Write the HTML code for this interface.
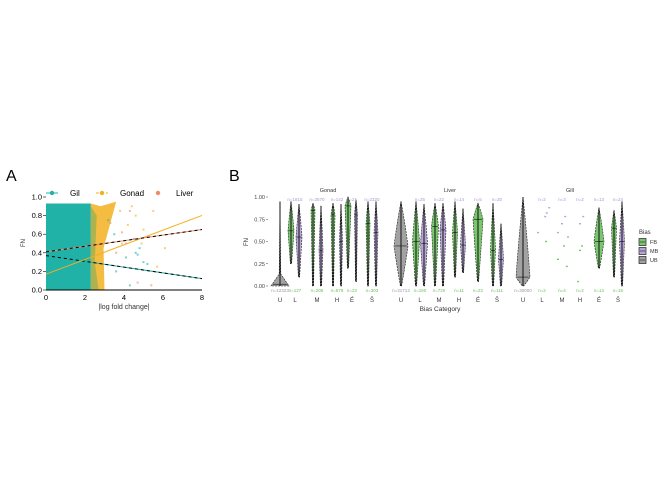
<!DOCTYPE html>
<html><head><meta charset="utf-8"><style>
body{margin:0;background:#fff;}
svg{display:block;font-family:"Liberation Sans",sans-serif;}
</style></head><body>
<svg id="fig" width="672" height="480" viewBox="0 0 672 480">
<g id="pa"></g>
<g id="pb"></g>
</svg>
<script>
// ---------- Panel A data ----------
const aTicksX = [0, 2, 4, 6, 8];
const aTicksY = [0.0, 0.2, 0.4, 0.6, 0.8, 1.0];
const aSeries = ["Gil", "Gonad", "Liver"];
const aIntercepts = [0.37, 0.17, 0.41];
const aSlopes = [-0.031, 0.079, 0.030];
const aScatterGil = [[3.2,0.75],[3.5,0.6],[4.1,0.35],[4.5,0.55],[4.6,0.4],[4.7,0.38],[5.0,0.3],[4.3,0.05],[3.6,0.2],[4.8,0.45],[5.2,0.28]];
const aScatterGonad = [[3.4,0.9],[3.8,0.85],[4.2,0.7],[4.6,0.8],[5.0,0.65],[5.5,0.85],[4.9,0.5],[5.7,0.25],[6.1,0.45],[3.9,0.5],[4.4,0.9]];
const aScatterLiver = [[3.3,0.72],[3.9,0.62],[4.3,0.85],[4.7,0.08],[5.4,0.05],[4.1,0.5],[3.6,0.4]];
// ---------- Panel B data ----------
const bTicksY = [0.00, 0.25, 0.50, 0.75, 1.00];
const bTickLabels = ["0.00","0.25","0.50","0.75","1.00"];
const bTissues = ["Gonad", "Liver", "Gill"];
const bCategories = ["U","L","M","H","E","S"];
const bCatLabels = ["U","L","M","H","É","Š"];
const vTissue = [0,0,0,0,0,0,0,0,0,0,0, 1,1,1,1,1,1,1,1,1,1, 2,2,2,2];
const vCat    = [0,1,1,2,2,3,3,4,4,5,5, 0,1,1,2,2,3,3,4,5,5, 0,4,5,5];
const vBias   = ["UB","FB","MB","FB","MB","FB","MB","FB","MB","FB","MB","UB","FB","MB","FB","MB","FB","MB","FB","FB","MB","UB","FB","FB","MB"];
const vMin    = [0,0.25,0.1,0,0,0,0,0.2,0.05,0,0, 0,0,0,0,0,0.1,0.15,0.05,0,0, 0,0.2,0.1,0];
const vMax    = [0.95,0.95,0.92,0.93,0.9,0.93,0.92,1.0,0.97,0.95,0.95, 0.95,0.95,0.92,0.93,0.93,0.95,0.87,0.93,0.93,0.7, 1.0,0.88,0.85,0.95];
const vMed    = [0.02,0.62,0.55,0.85,0.4,0.8,0.5,0.9,0.8,0.7,0.6, 0.45,0.5,0.48,0.67,0.63,0.6,0.46,0.75,0.4,0.3, 0.1,0.5,0.65,0.5];
const vWidth  = [9,3,3,2,2,2,1.5,3,1.5,2,2, 7,3.5,3.5,3.5,3,2.5,2.5,5,2.5,2.5, 7,5,2.5,2.5];
const nTop = ["n=1815","n=2570","n=142","n=21","n=2320","n=25","n=22","n=14","n=5","n=30","n=2","n=3","n=2","n=13","n=24"];
const nBot = ["n=12323","n=127","n=208","n=579","n=22","n=303","n=31712","n=160","n=720","n=11","n=22","n=111","n=30000","n=2","n=4","n=2","n=13","n=16"];
const gillDots = [[1,0.88],[1,0.82],[1,0.78],[1,0.6],[2,0.78],[2,0.7],[2,0.6],[2,0.55],[2,0.3],[2,0.22],[3,0.78],[3,0.7],[3,0.4],[3,0.45],[2,0.45],[1,0.5],[3,0.05]];

const NS="http://www.w3.org/2000/svg";
function el(parent, tag, attrs, text){
  const e=document.createElementNS(NS,tag);
  for(const k in attrs) e.setAttribute(k,attrs[k]);
  if(text!==undefined) e.textContent=text;
  parent.appendChild(e); return e;
}
const colA={Gil:"#20b2a6",Gonad:"#f2b01e",Liver:"#f0896e"};
const colB={FB:"#79c66f",MB:"#b6a5d6",UB:"#a2a2a2"};

// ---------- Panel A ----------
const pa=document.getElementById('pa');
const ax=v=>46+19.5*v, ay=v=>290-93*v;
let t=el(pa,'text',{x:6,y:181,'font-size':16,fill:'#000'},'A');


let r=el(pa,'rect',{x:ax(0),y:ay(0.93),width:ax(2.3)-ax(0),height:ay(0)-ay(0.93),fill:colA.Gil});


let p=el(pa,'path',{d:`M${ax(2.3)} ${ay(0.93)} L${ax(2.8)} ${ay(0.9)} L${ax(3.6)} ${ay(0.95)} L${ax(3.3)} ${ay(0.72)} L${ax(2.95)} ${ay(0.45)} L${ax(3.0)} ${ay(0.0)} L${ax(2.3)} ${ay(0)} Z`,fill:colA.Gonad,opacity:0.85});


p=el(pa,'path',{d:`M${ax(2.3)} ${ay(0.9)} L${ax(2.6)} ${ay(0.8)} L${ax(2.5)} ${ay(0.3)} L${ax(2.7)} ${ay(0.0)} L${ax(2.3)} ${ay(0)} Z`,fill:"#7fae5a",opacity:0.6});


[[aScatterGil,colA.Gil,'gil'],[aScatterGonad,colA.Gonad,'gonad'],[aScatterLiver,colA.Liver,'liver']].forEach(([pts,c,n])=>{
  pts.forEach(d=>{
    const q=el(pa,'rect',{x:ax(d[0])-1,y:ay(d[1])-1,width:2,height:2,fill:c,opacity:0.6});
    
    
  });
});
aSeries.forEach((s,i)=>{
  const y0=aIntercepts[i], y1=aIntercepts[i]+aSlopes[i]*8;
  let l=el(pa,'line',{x1:ax(0),y1:ay(y0),x2:ax(8),y2:ay(y1),stroke:colA[s],'stroke-width':1});
  
  
  if(s!=="Gonad"){
    l=el(pa,'line',{x1:ax(0),y1:ay(y0),x2:ax(8),y2:ay(y1),stroke:'#000','stroke-width':1,'stroke-dasharray':'3,3'});
    
    
  }
});
let a=el(pa,'line',{x1:ax(0),y1:ay(0),x2:ax(8),y2:ay(0),stroke:'#000','stroke-width':1});


aTicksX.forEach(v=>{
  const tl=el(pa,'text',{x:ax(v),y:300,'font-size':7.5,'text-anchor':'middle',fill:'#000'},String(v));
  
  
});
aTicksY.forEach(v=>{
  const tl=el(pa,'text',{x:42,y:ay(v)+2.5,'font-size':7.5,'text-anchor':'end',fill:'#000'},v.toFixed(1));
  
  
  const tk=el(pa,'line',{x1:43,y1:ay(v),x2:46,y2:ay(v),stroke:'#000','stroke-width':0.6});
  
  
});
t=el(pa,'text',{x:124,y:309,'font-size':7,'text-anchor':'middle',fill:'#333'},'|log fold change|');


t=el(pa,'text',{x:0,y:0,'font-size':6,'text-anchor':'middle',fill:'#333',transform:'translate(25,243) rotate(-90)'},'FN');


[[52,'Gil'],[102,'Gonad'],[158,'Liver']].forEach(([x,s])=>{
  const g=el(pa,'g',{});
  
  
  if(s!=='Liver') el(g,'line',{x1:x-6,y1:193,x2:x+6,y2:193,stroke:colA[s],'stroke-width':1,'stroke-dasharray':s==='Gonad'?'3,2':''});
  el(g,'circle',{cx:x,cy:193,r:2.2,fill:colA[s]});
  el(g,'text',{x:x+18,y:196,'font-size':8,fill:'#000'},s);
});

// ---------- Panel B ----------
const pb=document.getElementById('pb');
const by=v=>286-89*v;
const catX=[[280,295,317,337,352,372],[401,420,439,459,478,497],[523,542,562,580,599,618]];
t=el(pb,'text',{x:229,y:181,'font-size':16,fill:'#000'},'B');


bTicksY.forEach((v,i)=>{
  const tl=el(pb,'text',{x:265,y:by(v)+2,'font-size':5.5,'text-anchor':'end',fill:'#444'},bTickLabels[i]);
  
  
  const tk=el(pb,'line',{x1:266,y1:by(v),x2:268,y2:by(v),stroke:'#444','stroke-width':0.5});
  
  
});
t=el(pb,'text',{x:0,y:0,'font-size':6,'text-anchor':'middle',fill:'#333',transform:'translate(248,242) rotate(-90)'},'FN');


const titleX=[328,450,570];
bTissues.forEach((s,i)=>{
  const tl=el(pb,'text',{x:titleX[i],y:192,'font-size':5.5,'text-anchor':'middle',fill:'#333'},s);
  
  
  bCategories.forEach((c,j)=>{
    const cl=el(pb,'text',{x:catX[i][j],y:302,'font-size':6,'text-anchor':'middle',fill:'#333'},bCatLabels[j]);
    
    
  });
});
t=el(pb,'text',{x:440,y:311,'font-size':6.5,'text-anchor':'middle',fill:'#333'},'Bias Category');


vTissue.forEach((ti,k)=>{
  const bias=vBias[k];
  const off=bias==='FB'?-4:(bias==='MB'?4:0);
  const single=(ti===1&&vCat[k]===4)||(ti===2&&vCat[k]===4);
  const cx=catX[ti][vCat[k]]+(single?0:off);
  const w=vWidth[k], top=by(vMax[k]), bot=by(vMin[k]);
  let wm=by(vMed[k]);
  let d;
  if(bot-wm<6){
    // bottom-heavy: narrow spike then flare at base
    const sh=bot-12;
    d=`M${cx} ${top} L${cx+0.8} ${sh} L${cx+w} ${bot} L${cx-w} ${bot} L${cx-0.8} ${sh} Z`;
  } else {
    wm=Math.max(wm,top+4);
    d=`M${cx} ${top} Q${cx+w*0.6} ${(top+wm)/2} ${cx+w} ${wm} Q${cx+w*0.6} ${(wm+bot)/2} ${cx+0.6} ${bot} L${cx-0.6} ${bot} Q${cx-w*0.6} ${(wm+bot)/2} ${cx-w} ${wm} Q${cx-w*0.6} ${(top+wm)/2} ${cx} ${top} Z`;
  }
  const v=el(pb,'path',{d:d,fill:colB[bias],stroke:'#222','stroke-width':0.6,'stroke-dasharray':'2,1'});
  
  
  const ln=el(pb,'line',{x1:cx,y1:top,x2:cx,y2:bot,stroke:'#111','stroke-width':1});
  
  
  const md=el(pb,'line',{x1:cx-Math.max(w*0.8,1.5),y1:by(vMed[k]),x2:cx+Math.max(w*0.8,1.5),y2:by(vMed[k]),stroke:'#111','stroke-width':0.6});
  
  
});
gillDots.forEach(d=>{
  const q=el(pb,'rect',{x:catX[2][d[0]]-1+(d[1]*10%3-1)*4,y:by(d[1])-0.7,width:2,height:1.4,fill:d[1]>0.5?colB.MB:colB.FB});
  
  
});
const allX=catX.flat();
const topX=[295,317,337,352,372,420,439,459,478,497,542,562,580,599,618];
nTop.forEach((s,i)=>{
  const tl=el(pb,'text',{x:topX[i],y:201,'font-size':4.5,'text-anchor':'middle',fill:'#a898cf'},s);
  
  
});
nBot.forEach((s,i)=>{
  const tl=el(pb,'text',{x:allX[i],y:292,'font-size':4.5,'text-anchor':'middle',fill:i%6===0?'#999':'#6cc05f'},s);
  
  
});
t=el(pb,'text',{x:639,y:234,'font-size':6,fill:'#333'},'Bias');


[['FB',242],['MB',251],['UB',260]].forEach(([b,y])=>{
  const g=el(pb,'g',{});
  
  
  el(g,'rect',{x:639,y:y-3.5,width:7,height:7,fill:colB[b],stroke:'#222','stroke-width':0.7});
  el(g,'line',{x1:640,y1:y,x2:645,y2:y,stroke:'#222','stroke-width':0.6});
  el(g,'text',{x:650,y:y+2,'font-size':5.5,fill:'#333'},b);
});
</script>
</body></html>
